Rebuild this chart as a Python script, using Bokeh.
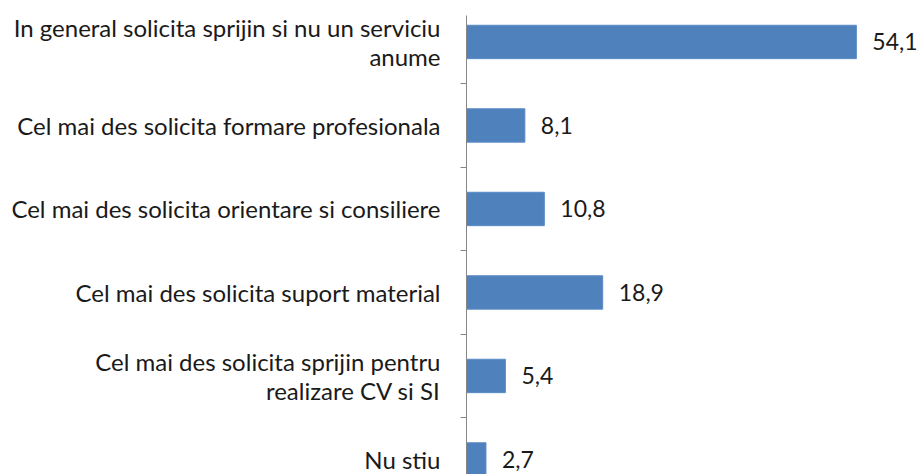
from bokeh.plotting import figure
from bokeh.models import Range1d, FixedTicker, ColumnDataSource
from bokeh.core.properties import value
from bokeh.embed import file_html
from bokeh.resources import INLINE

categories = [
    "In general solicita sprijin si nu un serviciu\nanume",
    "Cel mai des solicita formare profesionala",
    "Cel mai des solicita orientare si consiliere",
    "Cel mai des solicita suport material",
    "Cel mai des solicita sprijin pentru\nrealizare CV si SI",
    "Nu stiu",
]
values = [54.1, 8.1, 10.8, 18.9, 5.4, 2.7]
value_labels = [f"{v:.1f}".replace(".", ",") for v in values]

idx = list(range(len(categories)))
src = ColumnDataSource(dict(y=idx, v=values, lab=value_labels))

FONT = "Lato"
p = figure(width=920, height=474, output_backend="svg", toolbar_location=None,
           x_range=Range1d(0, 63.0), y_range=Range1d(5.18, -0.317),
           min_border_left=466, min_border_right=0, min_border_top=15, min_border_bottom=0)
p.outline_line_color = None
p.grid.grid_line_color = None
p.background_fill_color = "white"
p.border_fill_color = "white"
p.xaxis.visible = False

p.hbar(y="y", right="v", left=0, height=0.4, source=src,
       fill_color="#4F81BD", line_color="#5B8CC6", line_width=1)

p.text(x="v", y="y", text="lab", source=src, x_offset=16,
       text_baseline="middle", text_align="left",
       text_font=value(FONT), text_font_size="23px", text_color="#1a1a1a")

ax = p.yaxis[0]
ax.ticker = FixedTicker(ticks=idx, minor_ticks=[i + 0.5 for i in idx[:-1]])
ax.major_label_overrides = {i: c for i, c in zip(idx, categories)}
ax.major_tick_out = 0
ax.major_tick_in = 0
ax.minor_tick_out = 6
ax.minor_tick_in = 0
ax.minor_tick_line_color = "#868686"
ax.axis_line_color = "#868686"
ax.axis_line_width = 1
ax.major_label_standoff = 20
ax.major_label_text_font = FONT
ax.major_label_text_font_size = "24px"
ax.major_label_text_color = "#1a1a1a"
ax.major_label_text_line_height = 1.0

open("out.html", "w").write(file_html(p, INLINE))
